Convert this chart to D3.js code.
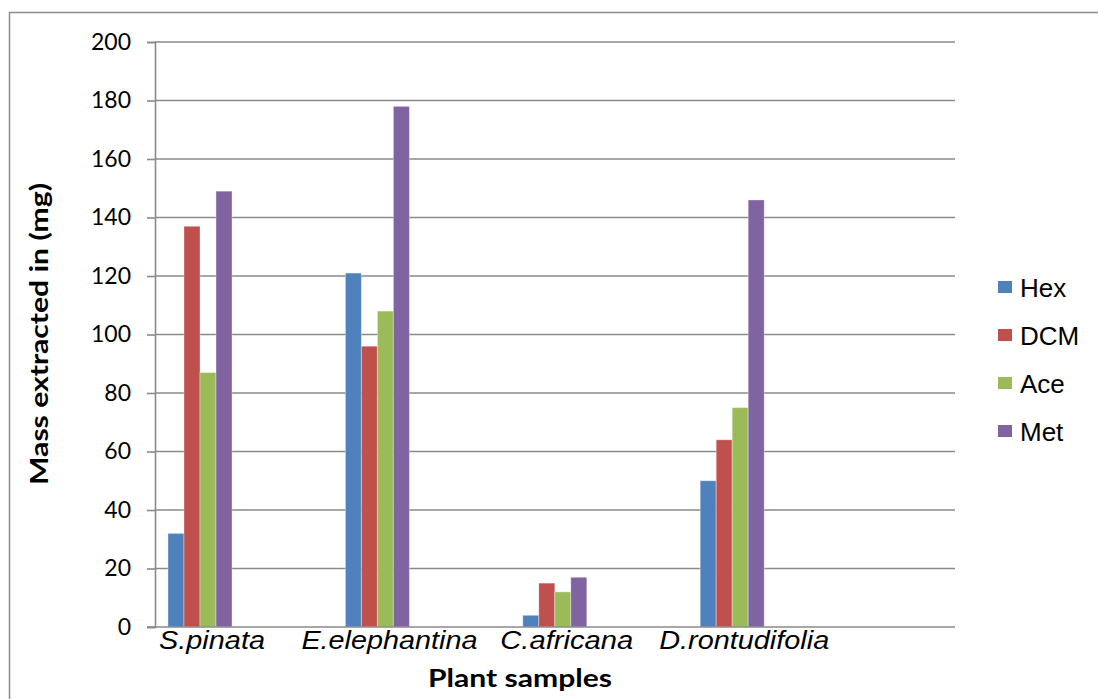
<!DOCTYPE html>
<html>
<head>
<meta charset="utf-8">
<script src="https://cdn.jsdelivr.net/npm/d3@7"></script>
<style>
  html, body { margin: 0; padding: 0; background: #fff; }
  svg { display: block; }
</style>
</head>
<body>
<svg id="chart" width="1098" height="699"></svg>
<script>
// Plant samples and the solvent used for each extraction
const categories = ["S.pinata", "E.elephantina", "C.africana", "D.rontudifolia"];
const series = ["Hex", "DCM", "Ace", "Met"];
const seriesColors = ["#4F81BD", "#C0504D", "#9BBB59", "#8064A2"];

// Mass extracted (mg) per sample, one array per solvent
const hexValues = [32, 121, 4, 50];
const dcmValues = [137, 96, 15, 64];
const aceValues = [87, 108, 12, 75];
const metValues = [149, 178, 17, 146];

const yTicks = [0, 20, 40, 60, 80, 100, 120, 140, 160, 180, 200];

const valuesBySeries = [hexValues, dcmValues, aceValues, metValues];
const rows = categories.map((c, i) => ({
  category: c,
  values: series.map((s, j) => ({ key: s, value: valuesBySeries[j][i] }))
}));

const svg = d3.select("#chart");

// Outer frame of the chart area
svg.append("rect")
  .attr("x", 9.5).attr("y", 12.5)
  .attr("width", 1100).attr("height", 700)
  .attr("fill", "none")
  .attr("stroke", "#8c8c8c")
  .attr("stroke-width", 1.5);

const plot = { left: 155, right: 955, top: 42, bottom: 627 };

const y = d3.scaleLinear().domain([0, 200]).range([plot.bottom, plot.top]);

const x = d3.scaleBand()
  .domain(categories)
  .range([168, 764.2])
  .paddingInner(0.6392)
  .paddingOuter(0);

const xInner = d3.scaleBand()
  .domain(series)
  .range([0, x.bandwidth()])
  .padding(0);

const color = d3.scaleOrdinal().domain(series).range(seriesColors);

// Horizontal gridlines
svg.append("g")
  .selectAll("line")
  .data(yTicks.filter(t => t > 0))
  .join("line")
  .attr("x1", plot.left).attr("x2", plot.right)
  .attr("y1", d => y(d)).attr("y2", d => y(d))
  .attr("stroke", "#8a8a8a")
  .attr("stroke-width", 1.6);

// Y axis with outward ticks
const yAxis = d3.axisLeft(y)
  .tickValues(yTicks)
  .tickSize(8)
  .tickPadding(16)
  .tickFormat(d3.format("d"));

const yAxisG = svg.append("g")
  .attr("transform", `translate(${plot.left},0)`)
  .call(yAxis);
yAxisG.select(".domain").attr("stroke", "#8a8a8a").attr("stroke-width", 1.6);
yAxisG.selectAll(".tick line").attr("stroke", "#8a8a8a").attr("stroke-width", 1.6);
yAxisG.selectAll(".tick text")
  .attr("font-family", "Lato, 'Open Sans', sans-serif")
  .attr("font-size", 23)
  .attr("fill", "#000");

// Bars
svg.append("g")
  .selectAll("g")
  .data(rows)
  .join("g")
  .attr("transform", d => `translate(${x(d.category)},0)`)
  .selectAll("rect")
  .data(d => d.values)
  .join("rect")
  .attr("x", d => xInner(d.key))
  .attr("width", xInner.bandwidth())
  .attr("y", d => y(d.value))
  .attr("height", d => y(0) - y(d.value))
  .attr("fill", d => color(d.key))
  .attr("stroke", "rgba(255,255,255,0.35)")
  .attr("stroke-width", 1);

// X axis baseline
svg.append("line")
  .attr("x1", plot.left - 8).attr("x2", plot.right)
  .attr("y1", y(0)).attr("y2", y(0))
  .attr("stroke", "#8a8a8a")
  .attr("stroke-width", 1.6);

// Category labels
const labelWidths = { "S.pinata": 106, "E.elephantina": 176, "C.africana": 133, "D.rontudifolia": 170 };
svg.append("g")
  .selectAll("text")
  .data(categories)
  .join("text")
  .attr("x", d => x(d) + x.bandwidth() / 2 + 12)
  .attr("y", 649)
  .attr("text-anchor", "middle")
  .attr("font-family", "'Liberation Sans', Arial, sans-serif")
  .attr("font-style", "italic")
  .attr("font-size", 25)
  .attr("textLength", d => labelWidths[d])
  .attr("lengthAdjust", "spacingAndGlyphs")
  .attr("fill", "#000")
  .text(d => d);

// Axis titles
svg.append("text")
  .attr("x", 520)
  .attr("y", 687)
  .attr("text-anchor", "middle")
  .attr("font-family", "Lato, 'Open Sans', sans-serif")
  .attr("font-weight", "bold")
  .attr("font-size", 25)
  .attr("textLength", 184)
  .attr("lengthAdjust", "spacingAndGlyphs")
  .attr("fill", "#000")
  .text("Plant samples");

svg.append("text")
  .attr("transform", "translate(48,334) rotate(-90)")
  .attr("text-anchor", "middle")
  .attr("font-family", "Lato, 'Open Sans', sans-serif")
  .attr("font-weight", "bold")
  .attr("font-size", 25)
  .attr("textLength", 302)
  .attr("lengthAdjust", "spacingAndGlyphs")
  .attr("fill", "#000")
  .text("Mass extracted in (mg)");

// Legend
const legend = svg.append("g")
  .selectAll("g")
  .data(series)
  .join("g")
  .attr("transform", (d, i) => `translate(998,${287 + i * 48})`);

legend.append("rect")
  .attr("x", 0).attr("y", -6)
  .attr("width", 14).attr("height", 12)
  .attr("fill", d => color(d));

legend.append("text")
  .attr("x", 22)
  .attr("y", 9.5)
  .attr("font-family", "'Liberation Sans', Arial, sans-serif")
  .attr("font-size", 26)
  .attr("fill", "#000")
  .text(d => d);
</script>
</body>
</html>
